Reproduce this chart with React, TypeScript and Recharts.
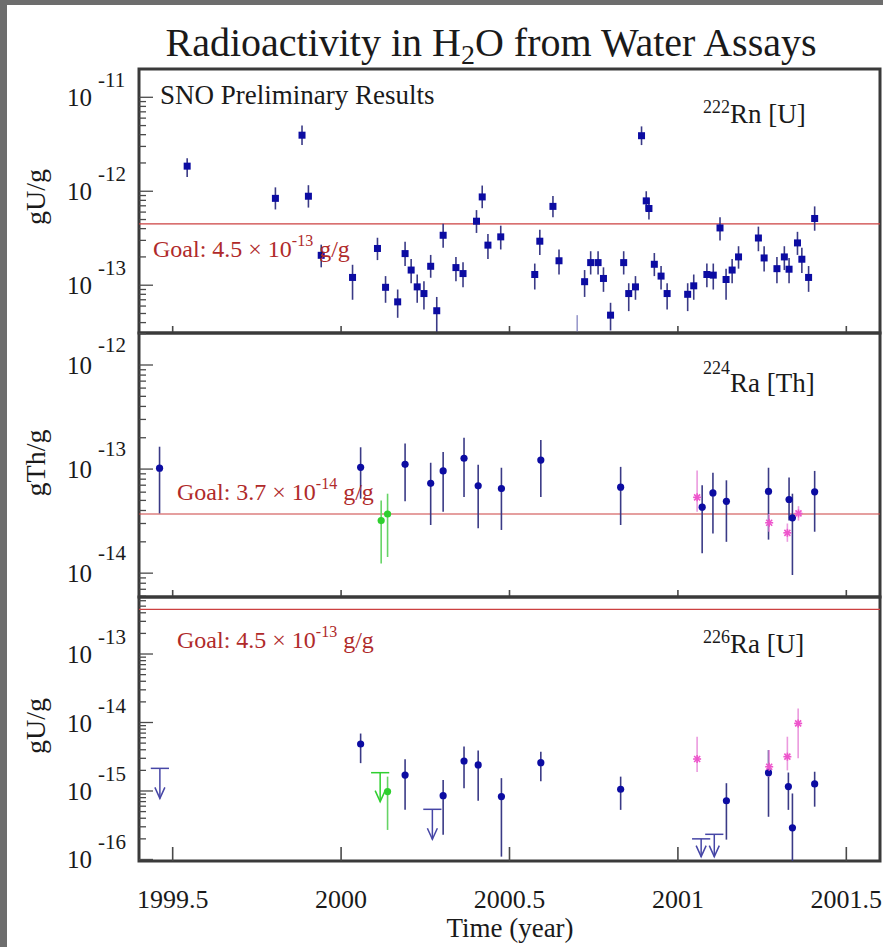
import React from 'react';
import { ScatterChart, Scatter, XAxis, YAxis, ErrorBar, ReferenceLine, ReferenceArea } from 'recharts';

const FONT = '"Liberation Serif", "Times New Roman", Times, serif';

// ---------- shared x axis ----------
const xDomain: [number, number] = [1999.4, 2001.6];
const xTicks = [1999.5, 2000, 2000.5, 2001, 2001.5];

// ---------- panel 1 : 222Rn [U]  rows = [time, value, lowerEnd, upperEnd] ----------
const rnDomain: [number, number] = [3.1e-14, 2.0e-11];
const rnMajorTicks = [1e-13, 1e-12, 1e-11];
const rnGoal = 4.5e-13;
const rnBlue: number[][] = [
  [1999.543, 1.85e-12, 1.42e-12, 2.25e-12],
  [1999.805, 8.4e-13, 6.4e-13, 1.1e-12],
  [1999.884, 3.95e-12, 3.1e-12, 5.0e-12],
  [1999.903, 8.85e-13, 6.7e-13, 1.16e-12],
  [1999.941, 2.08e-13, 1.55e-13, 2.7e-13],
  [2000.034, 1.21e-13, 7.0e-14, 1.65e-13],
  [2000.108, 2.46e-13, 1.85e-13, 3.2e-13],
  [2000.132, 9.5e-14, 6.5e-14, 1.25e-13],
  [2000.168, 6.65e-14, 4.5e-14, 9.0e-14],
  [2000.19, 2.17e-13, 1.6e-13, 2.9e-13],
  [2000.208, 1.45e-13, 1.05e-13, 1.9e-13],
  [2000.226, 9.6e-14, 6.5e-14, 1.3e-13],
  [2000.246, 8.15e-14, 5.5e-14, 1.1e-13],
  [2000.266, 1.59e-13, 1.2e-13, 2.1e-13],
  [2000.284, 5.35e-14, 3.1e-14, 7.5e-14],
  [2000.303, 3.4e-13, 2.5e-13, 4.5e-13],
  [2000.341, 1.54e-13, 1.1e-13, 2.0e-13],
  [2000.362, 1.33e-13, 9.5e-14, 1.75e-13],
  [2000.402, 4.8e-13, 3.6e-13, 6.3e-13],
  [2000.419, 8.7e-13, 6.6e-13, 1.15e-12],
  [2000.436, 2.67e-13, 1.9e-13, 3.5e-13],
  [2000.474, 3.27e-13, 2.4e-13, 4.3e-13],
  [2000.575, 1.3e-13, 9.0e-14, 1.7e-13],
  [2000.59, 2.94e-13, 2.1e-13, 3.9e-13],
  [2000.629, 6.9e-13, 5.3e-13, 8.9e-13],
  [2000.647, 1.82e-13, 1.3e-13, 2.4e-13],
  [2000.723, 1.09e-13, 7.5e-14, 1.45e-13],
  [2000.741, 1.74e-13, 1.3e-13, 2.3e-13],
  [2000.763, 1.74e-13, 1.3e-13, 2.3e-13],
  [2000.779, 1.18e-13, 8.5e-14, 1.55e-13],
  [2000.8, 4.8e-14, 3.3e-14, 6.5e-14],
  [2000.839, 1.74e-13, 1.3e-13, 2.3e-13],
  [2000.854, 8.15e-14, 5.3e-14, 1.05e-13],
  [2000.874, 9.6e-14, 7.0e-14, 1.25e-13],
  [2000.892, 3.9e-12, 3.1e-12, 4.9e-12],
  [2000.906, 7.9e-13, 6.2e-13, 1.0e-12],
  [2000.914, 6.55e-13, 5.0e-13, 8.4e-13],
  [2000.93, 1.67e-13, 1.25e-13, 2.2e-13],
  [2000.95, 1.25e-13, 9.0e-14, 1.6e-13],
  [2000.968, 8.15e-14, 5.5e-14, 1.05e-13],
  [2001.029, 8.0e-14, 5.3e-14, 1.05e-13],
  [2001.047, 9.85e-14, 7.0e-14, 1.3e-13],
  [2001.086, 1.3e-13, 9.5e-14, 1.7e-13],
  [2001.105, 1.28e-13, 9.0e-14, 1.7e-13],
  [2001.125, 4.07e-13, 3.0e-13, 5.3e-13],
  [2001.143, 1.15e-13, 7.0e-14, 1.5e-13],
  [2001.161, 1.45e-13, 1.05e-13, 1.9e-13],
  [2001.18, 2.0e-13, 1.5e-13, 2.6e-13],
  [2001.239, 3.18e-13, 2.3e-13, 4.2e-13],
  [2001.256, 1.95e-13, 1.4e-13, 2.6e-13],
  [2001.294, 1.5e-13, 1.05e-13, 2.0e-13],
  [2001.316, 2.0e-13, 1.45e-13, 2.6e-13],
  [2001.33, 1.48e-13, 1.05e-13, 1.95e-13],
  [2001.355, 2.82e-13, 2.1e-13, 3.7e-13],
  [2001.368, 1.89e-13, 1.35e-13, 2.5e-13],
  [2001.388, 1.21e-13, 8.5e-14, 1.6e-13],
  [2001.406, 5.13e-13, 3.8e-13, 6.9e-13],
];
// point below the visible range: only the upper part of its bar shows [time, bottom of range, upperEnd]
const rnBarOnly: number[][] = [[2000.701, 3.1e-14, 4.8e-14]];

// ---------- panel 2 : 224Ra [Th] ----------
const thDomain: [number, number] = [5.9e-15, 2.03e-12];
const thMajorTicks = [1e-14, 1e-13, 1e-12];
const thGoal = 3.7e-14;
const thBlue: number[][] = [
  [1999.461, 1.02e-13, 3.75e-14, 1.64e-13],
  [2000.058, 1.04e-13, 5.2e-14, 1.62e-13],
  [2000.19, 1.11e-13, 4.9e-14, 1.76e-13],
  [2000.266, 7.3e-14, 2.9e-14, 1.15e-13],
  [2000.303, 9.6e-14, 3.9e-14, 1.46e-13],
  [2000.365, 1.27e-13, 5.4e-14, 2.0e-13],
  [2000.407, 6.9e-14, 2.7e-14, 1.1e-13],
  [2000.476, 6.5e-14, 2.6e-14, 1.03e-13],
  [2000.593, 1.22e-13, 5.4e-14, 1.9e-13],
  [2000.83, 6.7e-14, 2.9e-14, 1.05e-13],
  [2001.072, 4.3e-14, 1.55e-14, 7.0e-14],
  [2001.104, 5.9e-14, 2.4e-14, 9.2e-14],
  [2001.144, 4.9e-14, 2.0e-14, 7.8e-14],
  [2001.269, 6.1e-14, 2.1e-14, 1.03e-13],
  [2001.33, 5.1e-14, 3.2e-14, 8.3e-14],
  [2001.34, 3.4e-14, 9.6e-15, 5.8e-14],
  [2001.406, 6.05e-14, 2.5e-14, 9.6e-14],
];
const thGreen: number[][] = [
  [2000.119, 3.2e-14, 1.24e-14, 5.0e-14],
  [2000.138, 3.7e-14, 1.43e-14, 5.8e-14],
];
const thPink: number[][] = [
  [2001.057, 5.35e-14, 3.9e-14, 9.7e-14],
  [2001.271, 3.05e-14, 2.5e-14, 3.7e-14],
  [2001.325, 2.44e-14, 2.0e-14, 3.0e-14],
  [2001.358, 3.75e-14, 3.2e-14, 4.4e-14],
];

// ---------- panel 3 : 226Ra [U] ----------
const raDomain: [number, number] = [9.5e-17, 6.8e-13];
const raMajorTicks = [1e-16, 1e-15, 1e-14, 1e-13];
const raGoal = 4.5e-13;
const raBlue: number[][] = [
  [2000.058, 4.85e-15, 2.55e-15, 6.9e-15],
  [2000.19, 1.71e-15, 5.3e-16, 2.9e-15],
  [2000.303, 8.55e-16, 2.3e-16, 1.45e-15],
  [2000.365, 2.74e-15, 1.1e-15, 4.45e-15],
  [2000.407, 2.4e-15, 7.2e-16, 3.9e-15],
  [2000.476, 8.3e-16, 1.1e-16, 1.54e-15],
  [2000.593, 2.59e-15, 1.39e-15, 3.75e-15],
  [2000.83, 1.06e-15, 5.3e-16, 1.62e-15],
  [2001.144, 7.2e-16, 1.95e-16, 1.3e-15],
  [2001.269, 1.85e-15, 4.2e-16, 3.96e-15],
  [2001.328, 1.16e-15, 5.3e-16, 1.86e-15],
  [2001.34, 2.9e-16, 9.5e-17, 9.2e-16],
  [2001.406, 1.27e-15, 5.9e-16, 1.91e-15],
];
const raGreen: number[][] = [[2000.138, 9.8e-16, 2.7e-16, 1.62e-15]];
const raPink: number[][] = [
  [2001.057, 2.93e-15, 1.9e-15, 6.2e-15],
  [2001.271, 2.26e-15, 1.6e-15, 3.96e-15],
  [2001.325, 3.17e-15, 2.0e-15, 6.2e-15],
  [2001.357, 9.7e-15, 3.0e-15, 1.6e-14],
];
// upper limits: [time, limit, arrow tip]
const raLimitsBlue: number[][] = [
  [1999.462, 2.14e-15, 7.8e-16],
  [2000.271, 5.4e-16, 1.97e-16],
  [2001.069, 2.0e-16, 1.1e-16],
  [2001.108, 2.33e-16, 1.1e-16],
];
const raLimitsGreen: number[][] = [[2000.116, 1.85e-15, 7.0e-16]];
const LIMIT_HALF_WIDTH = 0.027;

// ---------- colours ----------
const BLUE = '#0c0ca2';
const BLUE_BAR = '#3a3a86';
const GREEN = '#2fcf2f';
const GREEN_BAR = '#66d466';
const PINK = '#ee55cc';
const PINK_BAR = '#eb9ade';
const GOAL = '#cc4040';
const GOAL_TEXT = '#b02a2a';
const FRAME = '#3a3a3a';
const INK = '#1a1a1a';

// ---------- helpers ----------
const toPts = (rows: number[][]) => rows.map(([x, y, lo, hi]) => ({ x, y, ey: [y - lo, hi - y] }));
const toBarOnly = (rows: number[][]) => rows.map(([x, y, hi]) => ({ x, y, ey: [0, hi - y] }));
const toLimits = (rows: number[][]) =>
  rows.map(([x, y, tip]) => ({ x, y, ey: [y - tip, 0], ex: LIMIT_HALF_WIDTH }));
const toTips = (rows: number[][]) => rows.map(([x, , tip]) => ({ x, y: tip }));

const logTicks = (majors: number[], dom: [number, number]) => {
  const out: number[] = [...majors];
  const bases = [majors[0] / 10, ...majors];
  bases.forEach((b) => {
    for (let m = 2; m <= 9; m++) {
      const v = m * b;
      if (v > dom[0] && v < dom[1]) out.push(v);
    }
  });
  return out.filter((v) => v >= dom[0] && v <= dom[1]).sort((a, b) => a - b);
};

const isMajor = (v: number) => {
  const l = Math.log10(v);
  return Math.abs(l - Math.round(l)) < 1e-6;
};

const makeYTick = (supDy: number) => (props: any) => {
  const { x, y, payload } = props;
  const v = payload.value;
  const major = isMajor(v);
  const len = major ? 14 : 7;
  return (
    <g>
      <line x1={x} y1={y} x2={x + len} y2={y} stroke="#4a4a4a" strokeWidth={1.3} />
      {major && (
        <text x={x - 47} y={y + 9} textAnchor="end" fontFamily={FONT} fontSize={25} fill={INK}>
          10
        </text>
      )}
      {major && (
        <text x={x - 41} y={y - supDy} textAnchor="start" fontFamily={FONT} fontSize={21} fill={INK}>
          {String(Math.round(Math.log10(v)))}
        </text>
      )}
    </g>
  );
};

const makeXTick = (len: number, labels: boolean) => (props: any) => {
  const { x, y, payload } = props;
  return (
    <g>
      <line x1={x} y1={y} x2={x} y2={y - len} stroke="#4a4a4a" strokeWidth={1.6} />
      {labels && (
        <text x={x} y={y + 47} textAnchor="middle" fontFamily={FONT} fontSize={26} fill={INK}>
          {String(payload.value)}
        </text>
      )}
    </g>
  );
};

const square = (color: string) => (p: any) => (
  <rect x={p.cx - 3.5} y={p.cy - 3.5} width={7} height={7} fill={color} />
);
const dot = (color: string) => (p: any) => <circle cx={p.cx} cy={p.cy} r={3.6} fill={color} />;
const star = (color: string) => (p: any) => (
  <g stroke={color} strokeWidth={1.6}>
    <line x1={p.cx - 4} y1={p.cy} x2={p.cx + 4} y2={p.cy} />
    <line x1={p.cx} y1={p.cy - 4} x2={p.cx} y2={p.cy + 4} />
    <line x1={p.cx - 3} y1={p.cy - 3} x2={p.cx + 3} y2={p.cy + 3} />
    <line x1={p.cx - 3} y1={p.cy + 3} x2={p.cx + 3} y2={p.cy - 3} />
  </g>
);
const none = () => <g />;
const arrowHead = (color: string) => (p: any) => (
  <path
    d={`M${p.cx - 5},${p.cy - 11} L${p.cx},${p.cy} L${p.cx + 5},${p.cy - 11}`}
    fill="none"
    stroke={color}
    strokeWidth={1.5}
  />
);

const W = 883;
const H = 947;
const PLOT_LEFT = 139;
const PLOT_RIGHT = 880;

type PanelProps = {
  top: number;
  bottom: number;
  domain: [number, number];
  majors: number[];
  goal: number;
  supDy: number;
  xTickLen: number;
  xLabels: boolean;
  children: React.ReactNode;
};

function Panel({ top, bottom, domain, majors, goal, supDy, xTickLen, xLabels, children }: PanelProps) {
  return (
    <div style={{ position: 'absolute', left: 0, top: 0 }}>
      <ScatterChart
        width={W}
        height={H}
        margin={{ top, bottom: H - bottom - 1, left: PLOT_LEFT - 1, right: W - PLOT_RIGHT }}
      >
        <XAxis
          type="number"
          dataKey="x"
          domain={xDomain}
          ticks={xTicks}
          allowDataOverflow
          height={1}
          tickSize={0}
          tickMargin={0}
          axisLine={false}
          tickLine={false}
          interval={0}
          tick={makeXTick(xTickLen, xLabels)}
        />
        <YAxis
          type="number"
          dataKey="y"
          scale="log"
          domain={domain}
          ticks={logTicks(majors, domain)}
          allowDataOverflow
          width={1}
          tickSize={0}
          tickMargin={0}
          axisLine={false}
          tickLine={false}
          interval={0}
          tick={makeYTick(supDy)}
        />
        <ReferenceLine y={goal} stroke={GOAL} strokeWidth={1.2} />
        {children}
        <ReferenceArea
          x1={xDomain[0]}
          x2={xDomain[1]}
          y1={domain[0]}
          y2={domain[1]}
          fill="none"
          fillOpacity={0}
          stroke={FRAME}
          strokeWidth={3}
        />
      </ScatterChart>
    </div>
  );
}

const series = (data: any[], shape: any, bar: string, key: string) => (
  <Scatter key={key} data={data} shape={shape} isAnimationActive={false}>
    <ErrorBar dataKey="ey" direction="y" width={0} stroke={bar} strokeWidth={1.6} />
  </Scatter>
);

const limits = (rows: number[][], color: string, key: string) => [
  <Scatter key={key + 'l'} data={toLimits(rows)} shape={none} isAnimationActive={false}>
    <ErrorBar dataKey="ey" direction="y" width={0} stroke={color} strokeWidth={1.5} />
    <ErrorBar dataKey="ex" direction="x" width={0} stroke={color} strokeWidth={1.5} />
  </Scatter>,
  <Scatter key={key + 't'} data={toTips(rows)} shape={arrowHead(color)} isAnimationActive={false} />,
];

const Sup = ({ x, y, children, size }: any) => (
  <text x={x} y={y} fontFamily={FONT} fontSize={size} fill={INK}>
    {children}
  </text>
);

const GoalText = ({ x, y, value, exp }: any) => (
  <text x={x} y={y} fontFamily={FONT} fontSize={24} fill={GOAL_TEXT}>
    {`Goal: ${value} × 10`}
    <tspan fontSize={16} dy={-11}>
      {exp}
    </tspan>
    <tspan dy={11}> g/g</tspan>
  </text>
);

export default function App() {
  return (
    <div style={{ position: 'absolute', left: 0, top: 0, width: W, height: H, background: '#6d6d6d' }}>
      <div style={{ position: 'absolute', left: 7, top: 5, width: W - 7, height: H - 5, background: '#ffffff' }} />

      <Panel top={69} bottom={333} domain={rnDomain} majors={rnMajorTicks} goal={rnGoal} supDy={10} xTickLen={7} xLabels={false}>
        {series(toPts(rnBlue), square(BLUE), BLUE_BAR, 'rn')}
        {series(toBarOnly(rnBarOnly), none, '#9a9acc', 'rnb')}
      </Panel>

      <Panel top={333} bottom={597} domain={thDomain} majors={thMajorTicks} goal={thGoal} supDy={13} xTickLen={7} xLabels={false}>
        {series(toPts(thBlue), dot(BLUE), BLUE_BAR, 'thb')}
        {series(toPts(thGreen), dot(GREEN), GREEN_BAR, 'thg')}
        {series(toPts(thPink), star(PINK), PINK_BAR, 'thp')}
      </Panel>

      <Panel top={597} bottom={861} domain={raDomain} majors={raMajorTicks} goal={raGoal} supDy={10} xTickLen={14} xLabels={true}>
        {series(toPts(raBlue), dot(BLUE), BLUE_BAR, 'rab')}
        {series(toPts(raGreen), dot(GREEN), GREEN_BAR, 'rag')}
        {series(toPts(raPink), star(PINK), PINK_BAR, 'rap')}
        {limits(raLimitsBlue, '#4646a6', 'lb')}
        {limits(raLimitsGreen, GREEN, 'lg')}
      </Panel>

      <svg width={W} height={H} style={{ position: 'absolute', left: 0, top: 0, pointerEvents: 'none' }}>
        <text x={491} y={56} textAnchor="middle" fontFamily={FONT} fontSize={40} fill={INK}>
          Radioactivity in H
          <tspan fontSize={28} dy={8}>2</tspan>
          <tspan dy={-8}>O from Water Assays</tspan>
        </text>

        <text x={160} y={104} fontFamily={FONT} fontSize={27} fill={INK}>SNO Preliminary Results</text>

        <Sup x={703} y={113} size={18}>222</Sup>
        <Sup x={730} y={123} size={27}>Rn [U]</Sup>
        <Sup x={703} y={374} size={18}>224</Sup>
        <Sup x={730} y={392} size={27}>Ra [Th]</Sup>
        <Sup x={703} y={643} size={18}>226</Sup>
        <Sup x={730} y={653} size={27}>Ra [U]</Sup>

        <GoalText x={153} y={257} value="4.5" exp="-13" />
        <GoalText x={177} y={500} value="3.7" exp="-14" />
        <GoalText x={177} y={648} value="4.5" exp="-13" />

        <text transform="rotate(-90 45 197)" x={45} y={197} textAnchor="middle" fontFamily={FONT} fontSize={28} fill={INK}>gU/g</text>
        <text transform="rotate(-90 45 463)" x={45} y={463} textAnchor="middle" fontFamily={FONT} fontSize={28} fill={INK}>gTh/g</text>
        <text transform="rotate(-90 45 726)" x={45} y={726} textAnchor="middle" fontFamily={FONT} fontSize={28} fill={INK}>gU/g</text>

        <text x={510} y={937} textAnchor="middle" fontFamily={FONT} fontSize={27} fill={INK}>Time (year)</text>
      </svg>
    </div>
  );
}
